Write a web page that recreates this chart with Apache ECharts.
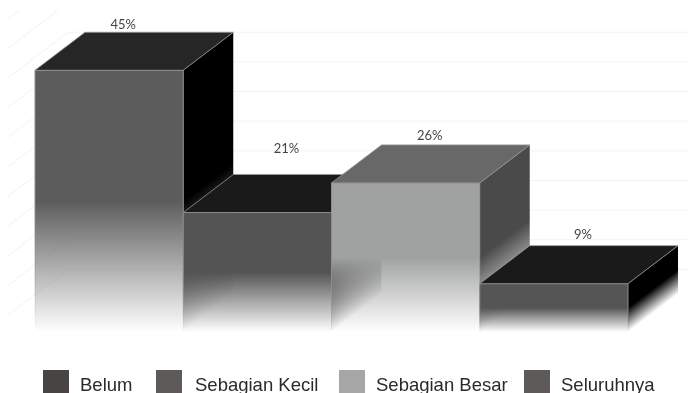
<!DOCTYPE html>
<html><head><meta charset="utf-8">
<style>html,body{margin:0;padding:0;background:#fff;overflow:hidden}#c{width:688px;height:393px}</style>
<script src="https://cdn.jsdelivr.net/npm/echarts@6/dist/echarts.min.js"></script>
</head><body><div id="c"></div>
<script>
const categories = ['Belum', 'Sebagian Kecil', 'Sebagian Besar', 'Seluruhnya'];
const values = [45, 21, 26, 9];
const wallLevels = [5, 10, 15, 20, 25, 30, 35, 40, 45, 50, 55];
const backWallMax = 45;

// styling
const DX = 50, DY = -38, FLOOR_CUT = 5, FADE_FROM = 0.5;
const faceRGB = ['92,92,92', '84,84,84', '160,162,161', '85,85,85'];
const topRGB = ['38,38,38', '26,26,26', '104,104,104', '26,26,26'];
const sideRGB = ['0,0,0', '0,0,0', '74,74,74', '0,0,0'];
const legendRGB = ['#484444', '#5e5a5a', '#a5a6a5', '#5e5a5a'];
const legendLeft = [43, 156, 339, 524];
const legendTextPad = [6, 8, 6, 6];
const labelDx = [-36, -21, -26, -21];
const labelDy = [-7, -26, -9, -11];

function fade(rgb, x, y, x2, y2) {
  return { type: 'linear', global: true, x, y, x2, y2, colorStops: [
    { offset: 0, color: 'rgba(' + rgb + ',1)' },
    { offset: 1, color: 'rgba(' + rgb + ',0)' }
  ]};
}
function poly(points, fill, stroke) {
  return { type: 'polygon', shape: { points }, silent: true,
    style: { fill, stroke: stroke || 'none', lineWidth: stroke ? 1 : 0 } };
}
function barRender(i) {
  return function (params, api) {
    const top = api.coord([api.value(0), api.value(1)]);
    const zero = api.coord([api.value(0), 0]);
    const w = api.size([1, 0])[0];
    const xl = top[0] - w / 2, xr = xl + w, yt = top[1];
    const yb = zero[1] - FLOOR_CUT;
    const ym = yt + (yb - yt) * FADE_FROM;
    // side fade runs parallel to the floor edge
    const len = Math.hypot(DX, DY), nx = -DY / len, ny = DX / len;
    const d = (yb - ym) * ny;
    const sideFill = fade(sideRGB[i], xr, ym, xr + nx * d, ym + ny * d);
    const faceFill = fade(faceRGB[i], xl, ym, xl, yb);
    const edge = fade('140,140,140', xl, ym, xl, yb);
    const children = [
      poly([[xr, yt], [xr + DX, yt + DY], [xr + DX, yb + DY], [xr, yb]], sideFill),
      poly([[xl, yt], [xr, yt], [xr, yb], [xl, yb]], faceFill, edge),
      poly([[xl, yt], [xl + DX, yt + DY], [xr + DX, yt + DY], [xr, yt]], 'rgb(' + topRGB[i] + ')', 'rgba(150,150,150,0.8)'),
      { type: 'text', silent: true, style: {
          x: top[0] + DX + labelDx[i] + 0, y: yt + DY + labelDy[i],
          text: values[i] + '%', fill: '#444', font: '13px Lato, "Open Sans", sans-serif',
          align: 'center', verticalAlign: 'middle' } }
    ];
    return { type: 'group', children };
  };
}
function wallRender(params, api) {
  const lvl = api.value(0);
  const p = api.coord([0, lvl]);
  const by = p[1] + DY, bx = 68, minY = 10, xL = 8;
  const children = [];
  if (lvl <= backWallMax) {
    children.push({ type: 'line', silent: true, shape: { x1: bx, y1: by, x2: 688, y2: by },
      style: { stroke: '#f3f3f3', lineWidth: 1 } });
  }
  let x1 = bx, y1 = by, x2 = xL, y2 = by + (bx - xL) * (-DY / DX);
  if (y1 < minY) { x1 = bx - (minY - y1) * (DX / -DY); y1 = minY; }
  children.push({ type: 'line', silent: true, shape: { x1, y1, x2, y2 },
    style: { stroke: '#f3f3f3', lineWidth: 1 } });
  return { type: 'group', children };
}

const series = [{
  type: 'custom', name: 'wall', silent: true, coordinateSystem: 'cartesian2d',
  renderItem: wallRender, encode: { x: 1, y: 0 },
  data: wallLevels.map(v => [v]), z: 1
}].concat(categories.map((c, i) => ({
  type: 'custom', name: c, silent: true, coordinateSystem: 'cartesian2d',
  renderItem: barRender(i), encode: { x: 0, y: 1 },
  itemStyle: { color: legendRGB[i] },
  data: [[c, values[i]]], z: 2 + i
})));

const legendFont = { fontFamily: '"Liberation Sans", Arial, sans-serif', fontSize: 18.5, color: '#2a2a2a' };
const chart = echarts.init(document.getElementById('c'), null, { renderer: 'canvas' });
chart.setOption({
  animation: false,
  backgroundColor: '#fff',
  grid: { left: 35, width: 593, top: 11, height: 326 },
  xAxis: { type: 'category', data: categories, show: false },
  yAxis: { type: 'value', min: 0, max: 55, show: false, splitLine: { show: false } },
  legend: categories.map((c, i) => ({
    data: [{ name: c, icon: 'rect' }], left: legendLeft[i], top: 370, padding: 0,
    itemWidth: 26, itemHeight: 26, itemGap: 0, selectedMode: false,
    formatter: '{t|{name}}',
    textStyle: Object.assign({}, legendFont, {
      rich: { t: Object.assign({}, legendFont, { padding: [6, 0, 0, legendTextPad[i]] }) }
    })
  })),
  series
});
</script></body></html>
